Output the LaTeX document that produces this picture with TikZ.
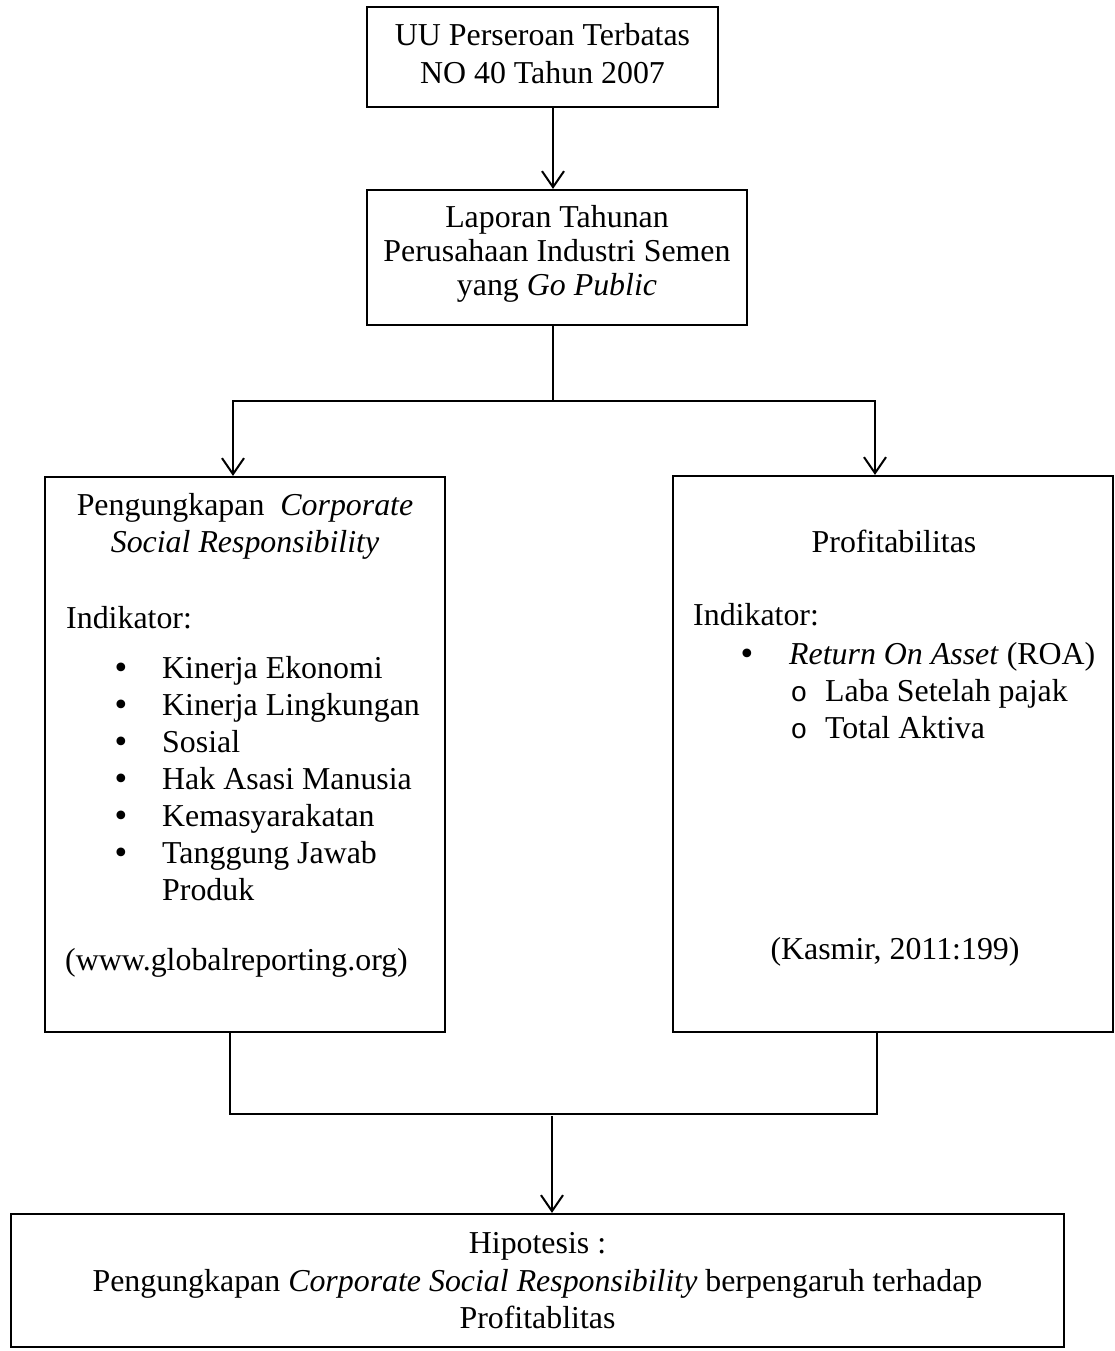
\documentclass[tikz,border=0pt]{standalone}
\usepackage{fontspec}
\setmainfont{Liberation Serif}
\newfontfamily\monof{Liberation Mono}
\newfontfamily\bulf{DejaVu Sans}
\usetikzlibrary{arrows.meta}
\begin{document}
\begin{tikzpicture}[x=1bp,y=-1bp,
  box/.style={draw, line width=2.2bp, rectangle, inner sep=0pt},
  ln/.style={line width=2bp},
  arr/.style={line width=2bp, -{Straight Barb[length=16bp,width=22bp,line width=2bp]}},
  txt/.style={anchor=base, inner sep=0pt, font=\fontsize{32pt}{37pt}\selectfont},
  ltxt/.style={txt, anchor=base west},
  bul/.style={anchor=base, inner sep=0pt, font=\fontsize{30pt}{30pt}\bulf},
  sub/.style={anchor=base, inner sep=0pt, font=\fontsize{28pt}{28pt}\monof}]
\useasboundingbox (0,0) rectangle (1114,1351);
% boxes
\node[box, minimum width=351bp, minimum height=100bp] (b1) at (542.5,57) {};
\node[box, minimum width=380bp, minimum height=135bp] (b2) at (557,257.5) {};
\node[box, minimum width=400bp, minimum height=555bp] (lft) at (245,754.5) {};
\node[box, minimum width=440bp, minimum height=556bp] (rgt) at (893,754) {};
\node[box, minimum width=1053bp, minimum height=133bp] (bot) at (537.5,1280.5) {};
% connector coordinates
\coordinate (c1) at (553,0);
\coordinate (j1) at (553,401);
\coordinate (la) at (233,401);
\coordinate (ra) at (875,401);
\coordinate (lb) at (230,1114);
\coordinate (rb) at (877,1114);
\coordinate (j2) at (552,1116);
% connectors
\draw[arr] (b1.south -| c1) -- (b2.north -| c1);
\draw[ln] (b2.south -| j1) -- (j1);
\draw[arr] (j1) -- (la) -- (lft.north -| la);
\draw[arr] (j1) -- (ra) -- (rgt.north -| ra);
\draw[ln] (lft.south -| lb) -- (lb) -- (rb) -- (rgt.south -| rb);
\draw[arr] (j2) -- (bot.north -| j2);
% box 1 text
\node[txt] (t11) at (542.5,46) {UU Perseroan Terbatas};
\node[txt] (t12) at (542.5,84) {NO 40 Tahun 2007};
% box 2 text
\node[txt] (t21) at (557,228) {Laporan Tahunan};
\node[txt] (t22) at (557,262) {Perusahaan Industri Semen};
\node[txt] (t23) at (557,295) {yang \textit{Go Public}};
% left box text
\node[txt] (l1) at (245,515) {Pengungkapan\ \ \textit{Corporate}};
\node[txt] (l2) at (245,552) {\textit{Social Responsibility}};
\node[ltxt] (l3) at (66,628) {Indikator:};
\foreach \y/\t [count=\i] in {678/Kinerja Ekonomi,715/Kinerja Lingkungan,752/Sosial,789/Hak Asasi Manusia,826/Kemasyarakatan,863/Tanggung Jawab}{
  \node[bul] (lb\i) at (121,\y) {•};
  \node[ltxt] (li\i) at (162,\y) {\t};
}
\node[ltxt] (li7) at (162,900) {Produk};
\node[ltxt] (l4) at (65,970) {(www.globalreporting.org)};
% right box text
\node[txt] (r1) at (894,552) {Profitabilitas};
\node[ltxt] (r2) at (693,625) {Indikator:};
\node[bul] (rb1) at (747,664) {•};
\node[ltxt] (r3) at (789,664) {\textit{Return On Asset} (ROA)};
\node[sub] (ro1) at (799,701) {o};
\node[ltxt] (r4) at (825,701) {Laba Setelah pajak};
\node[sub] (ro2) at (799,738) {o};
\node[ltxt] (r5) at (825,738) {Total Aktiva};
\node[txt] (r6) at (895,959) {(Kasmir, 2011:199)};
% bottom box text
\node[txt] (h1) at (537.5,1253) {Hipotesis :};
\node[txt] (h2) at (537.5,1291) {Pengungkapan \textit{Corporate Social Responsibility} berpengaruh terhadap};
\node[txt] (h3) at (537.5,1328) {Profitablitas};
\end{tikzpicture}
\end{document}
